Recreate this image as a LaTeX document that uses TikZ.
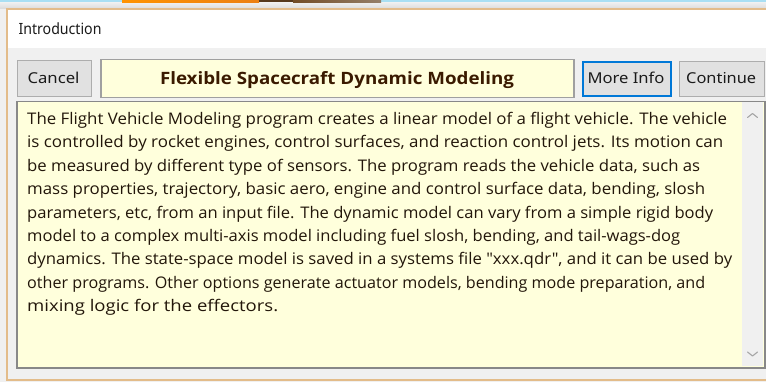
\documentclass[tikz,border=0pt]{standalone}
\usepackage{fontspec}
\newfontfamily\bodyfont{Open Sans}
\newfontfamily\uifont{Noto Sans}
\definecolor{bgray}{HTML}{F0F0F0}
\definecolor{skyblue}{HTML}{A9DFF3}
\definecolor{winborder}{HTML}{E3BC8A}
\definecolor{cream}{HTML}{FFFFDC}
\definecolor{boxborder}{HTML}{A0A0A0}
\definecolor{btnfill}{HTML}{E1E1E1}
\definecolor{btnborder}{HTML}{ADADAD}
\definecolor{focusblue}{HTML}{0078D7}
\definecolor{bodytext}{HTML}{22160A}
\definecolor{titletext}{HTML}{3A1A00}
\definecolor{uitext}{HTML}{1A1A1A}
\definecolor{chev}{HTML}{A6A6A6}
\newlength\fitlen
\newcommand\fitw[2]{\settowidth\fitlen{#2}\pgfmathsetmacro\fitsx{#1/\fitlen}\scalebox{\fitsx}[1]{#2}}
\newcommand\bsz{\fontsize{16}{20}\selectfont}
\tikzset{
  btn/.style={draw=btnborder, fill=btnfill, line width=1pt},
  txt/.style={anchor=base west, inner sep=0pt, text=bodytext},
  uitxt/.style={anchor=base west, inner sep=0pt, text=uitext},
  chevron/.style={draw=chev, line width=1.1pt, line cap=round, line join=round}
}
\begin{document}
\begin{tikzpicture}[x=1pt,y=-1pt]
\useasboundingbox (0,0) rectangle (766,382);
% background
\fill[bgray] (0,0) rectangle (766,382);
\shade[top color=black!6, bottom color=black!14] (0,2.3) rectangle (766,8.5);
\fill[skyblue] (0,0) rectangle (766,2.4);
\shade[left color=orange!85!yellow, right color=orange!70!brown] (122,0) rectangle (259,2.4);
\fill[brown!45!black] (259,0) rectangle (293,2.4);
\shade[left color=brown!60!black, right color=brown!35!gray] (293,0) rectangle (381,2.4);
% window
\fill[white] (7,9.2) rectangle (770,48.3);
\fill[bgray] (7,48.3) rectangle (770,380.3);
\draw[winborder, line width=1.8pt] (770,9.2) -- (7,9.2) -- (7,380.3) -- (770,380.3);
\node[uitxt] (wintitle) at (18.3,35) {\fitw{83}{\uifont\fontsize{15.5}{18}\selectfont Introduction}};
% buttons
\node[btn, minimum width=74pt, minimum height=36pt, anchor=north west, inner sep=0pt] (cancel) at (17,60) {};
\node[uitxt] (canceltxt) at (27.3,84) {\fitw{52}{\uifont\fontsize{15}{18}\selectfont Cancel}};
\node[draw=boxborder, fill=cream, line width=1.5pt, minimum width=473pt, minimum height=38pt, anchor=north west, inner sep=0pt] (titlebox) at (100,59) {};
\node[anchor=base, inner sep=0pt, text=titletext] (titletxt) at (337,85) {\fitw{354}{\bodyfont\bfseries\fontsize{17}{20}\selectfont Flexible Spacecraft Dynamic Modeling}};
\node[draw=focusblue, fill=btnfill, line width=1.6pt, minimum width=88pt, minimum height=34pt, anchor=north west, inner sep=0pt] (moreinfo) at (582,61) {};
\node[uitxt] (moretxt) at (587.3,84) {\fitw{77}{\uifont\fontsize{15}{18}\selectfont More Info}};
\node[btn, minimum width=85pt, minimum height=35pt, anchor=north west, inner sep=0pt] (continue) at (679,61) {};
\node[uitxt] (conttxt) at (686,84) {\fitw{70}{\uifont\fontsize{15}{18}\selectfont Continue}};
% text area
\node[draw=boxborder!85!black, fill=cream, line width=1.5pt, minimum width=748pt, minimum height=266pt, anchor=north west, inner sep=0pt] (textarea) at (16,101) {};
\fill[bgray] (742,102) rectangle (763.2,366.2);
\coordinate (upc) at (752.5,113.5);
\coordinate (dnc) at (752.5,356);
\draw[chevron] ([shift={(-5,4)}]upc) -- (upc) -- ([shift={(5,4)}]upc);
\draw[chevron] ([shift={(-5,-4)}]dnc) -- (dnc) -- ([shift={(5,-4)}]dnc);
% body text
\node[txt] (l1) at (27,124.5) {\fitw{700}{\bodyfont\bsz The Flight Vehicle Modeling program creates a linear model of a flight vehicle. The vehicle}};
\node[txt] (l2) at (27,147.9) {\fitw{696}{\bodyfont\bsz is controlled by rocket engines, control surfaces, and reaction control jets. Its motion can}};
\node[txt] (l3) at (27,171.3) {\fitw{673}{\bodyfont\bsz be measured by different type of sensors. The program reads the vehicle data, such as}};
\node[txt] (l4) at (27,194.7) {\fitw{678}{\bodyfont\bsz mass properties, trajectory, basic aero, engine and control surface data, bending, slosh}};
\node[txt] (l5) at (27,218.1) {\fitw{686}{\bodyfont\bsz parameters, etc, from an input file. The dynamic model can vary from a simple rigid body}};
\node[txt] (l6) at (27,241.5) {\fitw{653}{\bodyfont\bsz model to a complex multi-axis model including fuel slosh, bending, and tail-wags-dog}};
\node[txt] (l7) at (27,264.9) {\fitw{705}{\bodyfont\bsz dynamics. The state-space model is saved in a systems file "xxx.qdr", and it can be used by}};
\node[txt] (l8) at (27,288.3) {\fitw{678}{\bodyfont\bsz other programs. Other options generate actuator models, bending mode preparation, and}};
\node[txt] (l9) at (27,311.7) {\fitw{251}{\bodyfont\bsz mixing logic for the effectors.}};
\end{tikzpicture}
\end{document}
